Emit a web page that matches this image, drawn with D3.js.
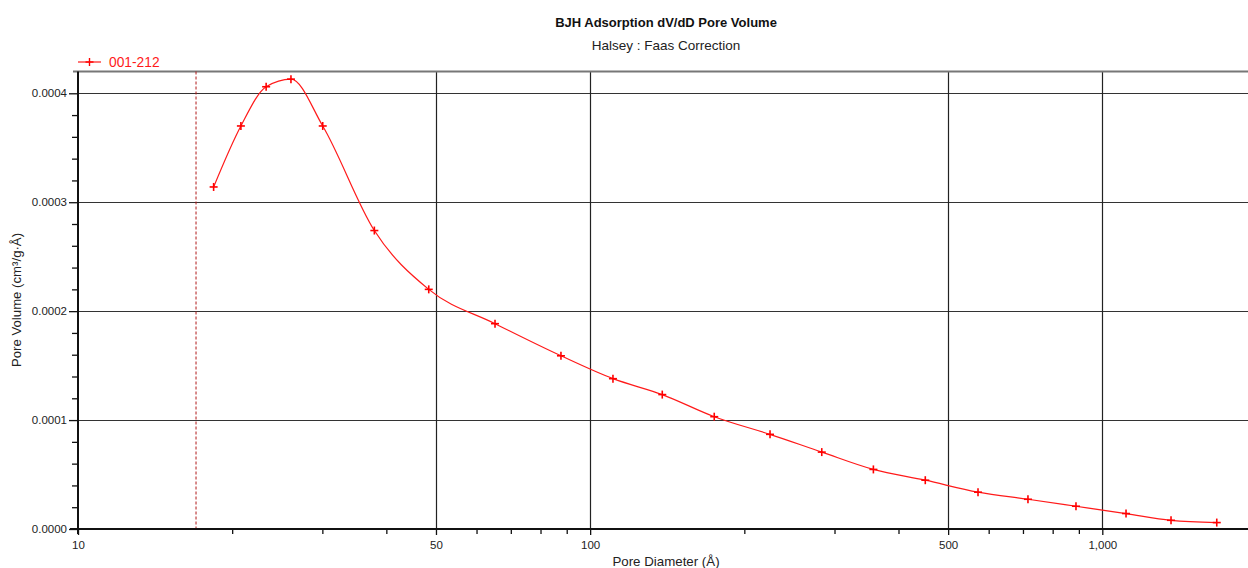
<!DOCTYPE html>
<html>
<head>
<meta charset="utf-8">
<script src="https://cdn.jsdelivr.net/npm/d3@7"></script>
<style>
  body { margin: 0; background: #fff; }
  svg { display: block; font-family: "Liberation Sans", Arial, sans-serif; }
</style>
</head>
<body>
<svg id="chart" width="1248" height="568"></svg>
<script>
'use strict'

// pore diameter (Å) and dV/dD pore volume (cm³/g·Å)
var diameters = [18.4, 20.8, 23.3, 26.05, 30.05, 37.9, 48.4, 65.2, 87.7, 110.8, 138.3, 174.7,
    224.5, 283.3, 357.3, 451.2, 571.9, 715.9, 888.4, 1112.6, 1362, 1673];
var volumes = [0.000314, 0.000370, 0.000406, 0.000413, 0.000370, 0.000274, 0.000220, 0.0001885,
    0.000159, 0.000138, 0.0001234, 0.0001031, 0.0000869, 0.0000706, 0.0000547, 0.0000448,
    0.0000338, 0.0000273, 0.0000209, 0.0000142, 0.0000080, 0.0000059];
var xTickValues = [10, 50, 100, 500, 1000];
var xMinorValues = [20, 30, 40, 60, 70, 80, 90, 200, 300, 400, 600, 700, 800, 900, 2000];
var yTickValues = [0, 0.0001, 0.0002, 0.0003, 0.0004];
var cutoffDiameter = 17;
var seriesName = "001-212";

var svg = d3.select("#chart"),
    width = 1248,
    plotLeft = 78,
    plotTop = 71.5,
    plotBottom = 529;

var x = d3.scaleLog().domain([10, 1000]).range([plotLeft, plotLeft + 2 * 512.15]);
var y = d3.scaleLinear().domain([0, 0.00042]).range([plotBottom, plotTop]);

var data = diameters.map((d, i) => ({ d: d, v: volumes[i] }));

// title
svg.append("text").attr("x", 666).attr("y", 27).attr("text-anchor", "middle")
    .attr("font-size", 13).attr("font-weight", "bold").attr("fill", "#111")
    .text("BJH Adsorption dV/dD Pore Volume");
svg.append("text").attr("x", 666).attr("y", 50).attr("text-anchor", "middle")
    .attr("font-size", 13.5).attr("fill", "#222")
    .text("Halsey : Faas Correction");

// grid
var grid = svg.append("g");
grid.selectAll("line.h")
    .data(yTickValues.slice(1))
    .enter().append("line")
    .attr("x1", plotLeft).attr("x2", width)
    .attr("y1", d => Math.round(y(d)) + 0.5).attr("y2", d => Math.round(y(d)) + 0.5)
    .attr("stroke", "#333").attr("stroke-width", 1.2);
grid.selectAll("line.v")
    .data(xTickValues.slice(1))
    .enter().append("line")
    .attr("x1", d => Math.round(x(d)) + 0.5).attr("x2", d => Math.round(x(d)) + 0.5)
    .attr("y1", plotTop).attr("y2", plotBottom)
    .attr("stroke", "#222").attr("stroke-width", 1.2);

// top frame
svg.append("line").attr("x1", 73).attr("x2", width).attr("y1", plotTop).attr("y2", plotTop)
    .attr("stroke", "#777").attr("stroke-width", 2);

// cutoff marker
svg.append("line")
    .attr("x1", x(cutoffDiameter)).attr("x2", x(cutoffDiameter))
    .attr("y1", plotTop).attr("y2", plotBottom)
    .attr("stroke", "#b01818").attr("stroke-width", 1).attr("stroke-dasharray", "3,2");

// axes
var yAxis = svg.append("g").attr("transform", `translate(${plotLeft},0)`)
    .call(d3.axisLeft(y).tickValues(yTickValues).tickFormat(d3.format(".4f")).tickSize(9).tickPadding(2));
var yMinor = svg.append("g").attr("transform", `translate(${plotLeft},0)`)
    .call(d3.axisLeft(y).tickValues(d3.range(0, 0.00042, 0.00002).filter((d, i) => i % 5 !== 0)).tickFormat("").tickSize(6));

var xAxis = svg.append("g").attr("transform", `translate(0,${plotBottom})`)
    .call(d3.axisBottom(x).tickValues(xTickValues).tickFormat(d3.format(",")).tickSize(6).tickPadding(6));
var xMinor = svg.append("g").attr("transform", `translate(0,${plotBottom})`)
    .call(d3.axisBottom(x).tickValues(xMinorValues).tickFormat("").tickSize(5));

[yAxis, yMinor, xAxis, xMinor].forEach(g => {
    g.select(".domain").remove();
    g.selectAll(".tick line").attr("stroke", "#111").attr("stroke-width", 1.3);
    g.selectAll("text").attr("font-family", "Liberation Sans, Arial, sans-serif")
        .attr("font-size", 11.5).attr("fill", "#222");
});

svg.append("line").attr("x1", plotLeft).attr("x2", plotLeft).attr("y1", plotTop).attr("y2", plotBottom + 5)
    .attr("stroke", "#111").attr("stroke-width", 2);
svg.append("line").attr("x1", 70).attr("x2", width).attr("y1", plotBottom).attr("y2", plotBottom)
    .attr("stroke", "#111").attr("stroke-width", 2);

// axis labels
svg.append("text").attr("x", 666).attr("y", 566).attr("text-anchor", "middle")
    .attr("font-size", 13.3).attr("fill", "#222").text("Pore Diameter (Å)");
svg.append("text").attr("transform", "translate(21,300) rotate(-90)").attr("text-anchor", "middle")
    .attr("font-size", 13.2).attr("fill", "#222").text("Pore Volume (cm³/g·Å)");

// series
var line = d3.line()
    .x(d => x(d.d))
    .y(d => y(d.v))
    .curve(d3.curveMonotoneX);

svg.append("path").datum(data)
    .attr("d", line)
    .attr("fill", "none").attr("stroke", "#ff1a1a").attr("stroke-width", 1.2);

var plus = (g, cx, cy) => {
    g.append("line").attr("x1", cx - 4).attr("x2", cx + 4).attr("y1", cy).attr("y2", cy);
    g.append("line").attr("x1", cx).attr("x2", cx).attr("y1", cy - 4).attr("y2", cy + 4);
};

var markers = svg.append("g").attr("stroke", "#ff0000").attr("stroke-width", 1.6);
data.forEach(d => plus(markers, x(d.d), y(d.v)));

// legend
var legend = svg.append("g");
legend.append("line").attr("x1", 78).attr("x2", 101).attr("y1", 62).attr("y2", 62)
    .attr("stroke", "#ff1a1a").attr("stroke-width", 1.2);
plus(legend.append("g").attr("stroke", "#ff0000").attr("stroke-width", 1.4), 89.5, 62);
legend.append("text").attr("x", 109).attr("y", 67).attr("font-size", 13.8).attr("fill", "#ff1a1a")
    .text(seriesName);
</script>
</body>
</html>
